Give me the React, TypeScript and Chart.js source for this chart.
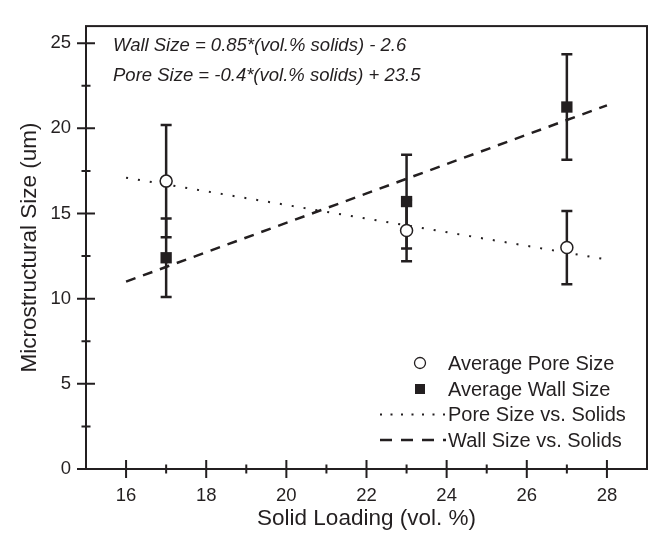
import React, { useEffect, useRef } from 'react';
import { Chart, registerables } from 'chart.js';

Chart.register(...registerables);

// ---- data ----
const solidLoading = [17, 23, 27];
const poreSize = [16.9, 14.0, 13.0];
const poreError = [3.3, 1.8, 2.15];
const wallSize = [12.4, 15.7, 21.25];
const wallError = [2.3, 2.75, 3.1];
const fitX = [16, 28];
const poreFit = [17.1, 12.3];
const wallFit = [11.0, 21.35];
const xMajorTicks = [16, 18, 20, 22, 24, 26, 28];
const xMinorTicks = [17, 19, 21, 23, 25, 27];
const yMajorTicks = [0, 5, 10, 15, 20, 25];
const yMinorTicks = [2.5, 7.5, 12.5, 17.5, 22.5];
const seriesLabels = [
  'Average Pore Size',
  'Average Wall Size',
  'Pore Size vs. Solids',
  'Wall Size vs. Solids',
];
const equations = [
  'Wall Size = 0.85*(vol.% solids) - 2.6',
  'Pore Size = -0.4*(vol.% solids) + 23.5',
];
const xTitle = 'Solid Loading (vol. %)';
const yTitle = 'Microstructural Size (um)';

const INK = '#231f20';
const FONT = '"Liberation Sans", Arial, Helvetica, sans-serif';

const errorBarPlugin = {
  id: 'errorBars',
  beforeDatasetsDraw(chart: any) {
    const { ctx, scales } = chart;
    const x = scales.x;
    const y = scales.y;
    ctx.save();
    ctx.strokeStyle = INK;
    ctx.lineWidth = 2.5;
    ctx.setLineDash([]);
    const draw = (xs: number[], ys: number[], es: number[]) => {
      xs.forEach((xv, i) => {
        const px = x.getPixelForValue(xv);
        const top = y.getPixelForValue(ys[i] + es[i]);
        const bot = y.getPixelForValue(ys[i] - es[i]);
        ctx.beginPath();
        ctx.moveTo(px, top);
        ctx.lineTo(px, bot);
        ctx.moveTo(px - 5.5, top);
        ctx.lineTo(px + 5.5, top);
        ctx.moveTo(px - 5.5, bot);
        ctx.lineTo(px + 5.5, bot);
        ctx.stroke();
      });
    };
    draw(solidLoading, poreSize, poreError);
    draw(solidLoading, wallSize, wallError);
    ctx.restore();
  },
};

const framePlugin = {
  id: 'frame',
  afterDraw(chart: any) {
    const { ctx, chartArea, scales } = chart;
    const x = scales.x;
    const y = scales.y;
    const { left, right, top, bottom } = chartArea;
    ctx.save();
    ctx.strokeStyle = INK;
    ctx.setLineDash([]);
    ctx.lineWidth = 2;
    ctx.strokeRect(left, top, right - left, bottom - top);
    ctx.lineWidth = 2;
    ctx.beginPath();
    xMajorTicks.forEach((v) => {
      const p = x.getPixelForValue(v);
      ctx.moveTo(p, bottom - 9);
      ctx.lineTo(p, bottom + 9);
    });
    xMinorTicks.forEach((v) => {
      const p = x.getPixelForValue(v);
      ctx.moveTo(p, bottom - 4.5);
      ctx.lineTo(p, bottom + 4.5);
    });
    yMajorTicks.forEach((v) => {
      const p = y.getPixelForValue(v);
      ctx.moveTo(left - 9, p);
      ctx.lineTo(left + 9, p);
    });
    yMinorTicks.forEach((v) => {
      const p = y.getPixelForValue(v);
      ctx.moveTo(left - 4.5, p);
      ctx.lineTo(left + 4.5, p);
    });
    ctx.stroke();

    // equations
    ctx.fillStyle = INK;
    ctx.font = `italic 18.5px ${FONT}`;
    ctx.textAlign = 'left';
    ctx.textBaseline = 'middle';
    equations.forEach((t, i) => {
      ctx.fillText(t, left + 27, top + 20 + i * 30);
    });

    // legend
    const ds = chart.data.datasets;
    const symX = 420;
    const textX = 448;
    const rowY = [363, 389, 414.5, 440];
    ctx.font = `20px ${FONT}`;
    ds.forEach((d: any, i: number) => {
      const ry = rowY[i];
      ctx.save();
      if (i === 0) {
        ctx.beginPath();
        ctx.arc(symX, ry, 5.5, 0, Math.PI * 2);
        ctx.fillStyle = '#fff';
        ctx.fill();
        ctx.lineWidth = 1.3;
        ctx.strokeStyle = INK;
        ctx.stroke();
      } else if (i === 1) {
        ctx.fillStyle = INK;
        ctx.fillRect(symX - 5, ry - 5, 10, 10);
      } else {
        ctx.strokeStyle = INK;
        ctx.lineWidth = d.borderWidth;
        ctx.setLineDash(i === 2 ? [2, 8.5] : [12, 9]);
        ctx.beginPath();
        ctx.moveTo(380, ry);
        ctx.lineTo(446, ry);
        ctx.stroke();
      }
      ctx.restore();
      ctx.fillStyle = INK;
      ctx.fillText(d.label, textX, ry + 1);
    });
    ctx.restore();
  },
};

export default function App() {
  const canvasRef = useRef<HTMLCanvasElement | null>(null);

  useEffect(() => {
    const canvas = canvasRef.current;
    if (!canvas) return;
    const chart = new Chart(canvas, {
      type: 'scatter',
      data: {
        datasets: [
          {
            label: seriesLabels[0],
            data: solidLoading.map((xv, i) => ({ x: xv, y: poreSize[i] })),
            pointStyle: 'circle',
            pointRadius: 6,
            backgroundColor: '#ffffff',
            borderColor: INK,
            borderWidth: 1.5,
            showLine: false,
          },
          {
            label: seriesLabels[1],
            data: solidLoading.map((xv, i) => ({ x: xv, y: wallSize[i] })),
            pointStyle: 'rect',
            pointRadius: 8,
            backgroundColor: INK,
            borderColor: INK,
            borderWidth: 0,
            showLine: false,
          },
          {
            label: seriesLabels[2],
            data: fitX.map((xv, i) => ({ x: xv, y: poreFit[i] })),
            showLine: true,
            borderColor: INK,
            borderWidth: 2,
            borderDash: [2, 10],
            pointRadius: 0,
            fill: false,
          },
          {
            label: seriesLabels[3],
            data: fitX.map((xv, i) => ({ x: xv, y: wallFit[i] })),
            showLine: true,
            borderColor: INK,
            borderWidth: 2.5,
            borderDash: [10, 8],
            pointRadius: 0,
            fill: false,
          },
        ],
      },
      options: {
        animation: false,
        responsive: false,
        maintainAspectRatio: false,
        layout: { padding: { top: 12, right: 13, left: 0, bottom: 0 } },
        plugins: {
          legend: { display: false },
          tooltip: { enabled: false },
        },
        scales: {
          x: {
            type: 'linear',
            min: 15,
            max: 29,
            afterFit: (s: any) => {
              s.height = 69;
            },
            afterBuildTicks: (s: any) => {
              s.ticks = xMajorTicks.map((v) => ({ value: v }));
            },
            grid: { display: false, drawTicks: false },
            border: { display: false },
            ticks: {
              padding: 16,
              color: INK,
              font: { family: FONT, size: 18.5 },
              autoSkip: false,
              maxRotation: 0,
            },
            title: {
              display: true,
              text: xTitle,
              color: INK,
              font: { family: FONT, size: 22.5 },
              padding: { top: 0, bottom: 6 },
            },
          },
          y: {
            type: 'linear',
            min: 0,
            max: 26,
            afterFit: (s: any) => {
              s.width = 86;
            },
            afterBuildTicks: (s: any) => {
              s.ticks = yMajorTicks.map((v) => ({ value: v }));
            },
            grid: { display: false, drawTicks: false },
            border: { display: false },
            ticks: {
              padding: 15,
              color: INK,
              font: { family: FONT, size: 18.5 },
              autoSkip: false,
            },
            title: {
              display: true,
              text: yTitle,
              color: INK,
              font: { family: FONT, size: 22.5 },
              padding: { top: 16, bottom: 0 },
            },
          },
        },
      },
      plugins: [errorBarPlugin, framePlugin],
    } as any);
    return () => chart.destroy();
  }, []);

  return (
    <div style={{ position: 'absolute', left: 0, top: 0, width: 660, height: 538, background: '#fff' }}>
      <canvas ref={canvasRef} width={660} height={538} style={{ display: 'block' }} />
    </div>
  );
}
